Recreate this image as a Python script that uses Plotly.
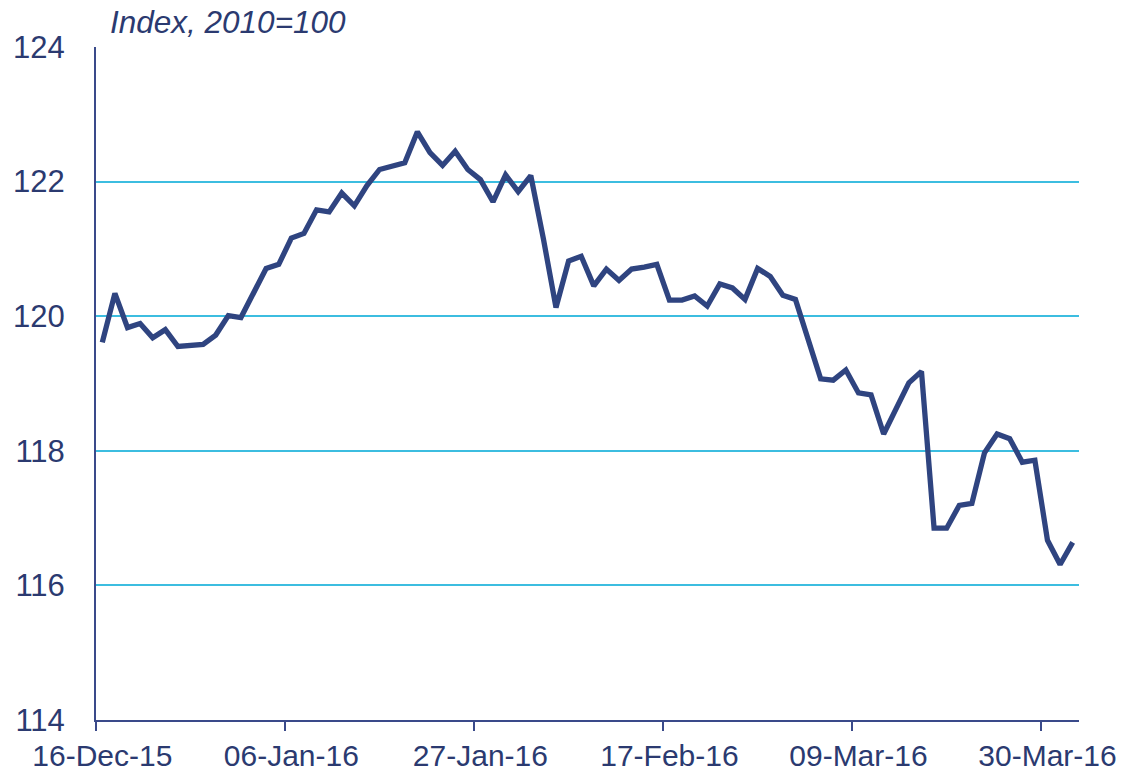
import pandas as pd
import plotly.graph_objects as go

# Business-day categories starting 16-Dec-15
dates = pd.bdate_range("2015-12-16", periods=78)
categories = [d.strftime("%d-%b-%y") for d in dates]

index_values = [
    119.61, 120.34, 119.83, 119.89, 119.68, 119.80, 119.55, 119.56, 119.58, 119.72,
    120.01, 119.98, 120.35, 120.71, 120.77, 121.16, 121.23, 121.58, 121.55, 121.83,
    121.64, 121.94, 122.18, 122.23, 122.28, 122.74, 122.43, 122.24, 122.45, 122.18,
    122.03, 121.70, 122.10, 121.85, 122.09, 121.15, 120.13, 120.82, 120.89, 120.45,
    120.70, 120.53, 120.70, 120.73, 120.77, 120.24, 120.24, 120.30, 120.15, 120.48,
    120.42, 120.25, 120.71, 120.59, 120.31, 120.25, 119.65, 119.07, 119.05, 119.20,
    118.86, 118.83, 118.25, 118.65, 119.01, 119.18, 116.85, 116.85, 117.19, 117.22,
    117.97, 118.25, 118.18, 117.83, 117.86, 116.67, 116.31, 116.64,
]

tick_labels = ["16-Dec-15", "06-Jan-16", "27-Jan-16", "17-Feb-16", "09-Mar-16", "30-Mar-16"]
y_ticks = [114, 116, 118, 120, 122, 124]
title_text = "Index, 2010=100"

NAVY = "#2F4480"
TEXT = "#2B3A70"
GRID = "#3CBDE0"
AXIS = "#3A4A8A"
FONT = "Liberation Sans, Arial, sans-serif"
FS = 31

tick_idx = [categories.index(t) for t in tick_labels]
n = len(categories)

fig = go.Figure()
fig.add_trace(go.Scatter(
    x=categories, y=index_values, mode="lines",
    line=dict(color=NAVY, width=5.3), showlegend=False, hoverinfo="x+y",
))
# invisible helper trace for boundary tick axis
fig.add_trace(go.Scatter(x=[-0.5, n - 0.5], y=[114, 114], xaxis="x2",
                         mode="lines", line=dict(width=0), showlegend=False, hoverinfo="skip"))

fig.update_layout(
    width=1126, height=773,
    margin=dict(l=96, r=47, t=47, b=53),
    paper_bgcolor="white", plot_bgcolor="white",
    font=dict(family=FONT, color=TEXT, size=FS),
    xaxis=dict(
        type="category", range=[-0.5, n - 0.5], automargin=False,
        tickmode="array", tickvals=tick_labels, ticktext=tick_labels,
        ticks="", showgrid=False, showline=True, linecolor=AXIS, linewidth=2,
        tickfont=dict(size=30, color=TEXT), ticklabelstandoff=8,
    ),
    xaxis2=dict(
        overlaying="x", range=[-0.5, n - 0.5], showticklabels=False, automargin=False,
        tickmode="array", tickvals=[i - 0.5 for i in tick_idx],
        ticks="outside", ticklen=10, tickwidth=2, tickcolor=AXIS,
        showgrid=False, showline=False, zeroline=False, side="bottom",
    ),
    yaxis=dict(
        range=[114, 124], tickvals=y_ticks, ticks="", automargin=False,
        showgrid=True, gridcolor=GRID, gridwidth=1.6,
        showline=True, linecolor=AXIS, linewidth=2, zeroline=False,
        tickfont=dict(size=FS, color=TEXT), ticklabelstandoff=23,
    ),
    annotations=[dict(
        text=title_text, xref="paper", yref="paper", x=0.012, y=1,
        xanchor="left", yanchor="bottom", yshift=5, showarrow=False,
        font=dict(size=31.5, color=TEXT, family=FONT, style="italic"),
    )],
)

fig.write_html(
    "out.html",
    config={"displayModeBar": False},
    post_script="document.body.style.margin='0';document.body.style.padding='0';"
                "document.body.style.overflow='hidden';",
)
